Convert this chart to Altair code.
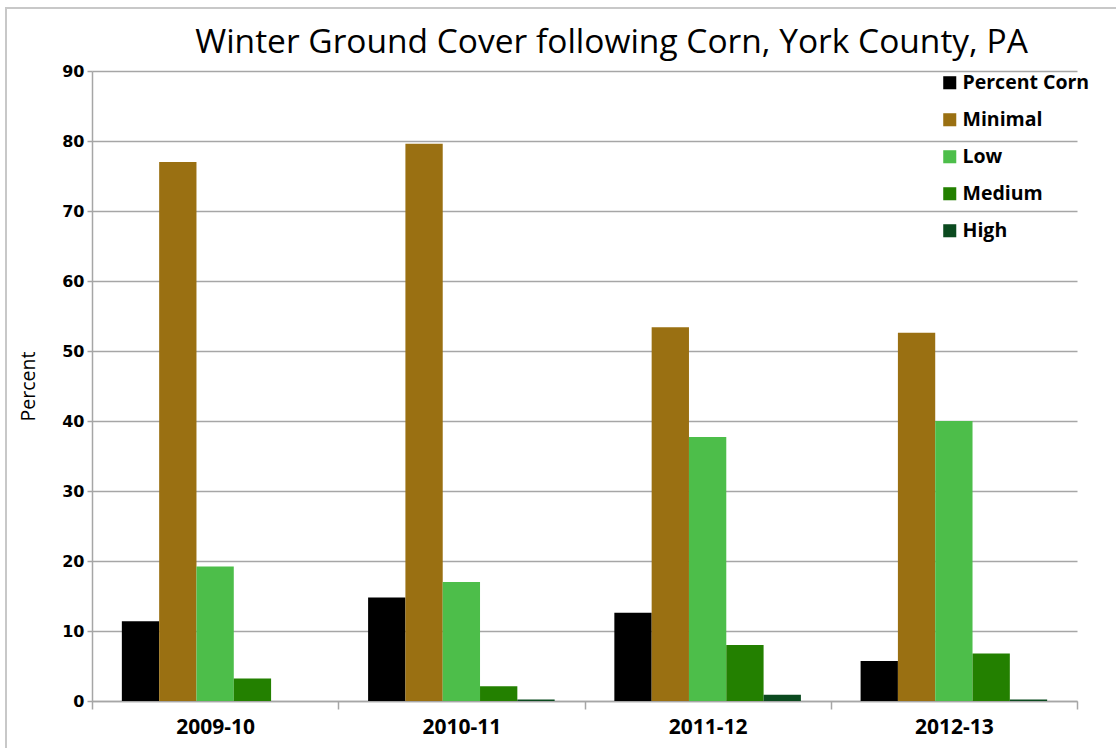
import altair as alt
import pandas as pd

# Winter ground cover on corn fields, York County PA
seasons = ["2009-10", "2010-11", "2011-12", "2012-13"]
series = ["Percent Corn", "Minimal", "Low", "Medium", "High"]
percent_corn = [11.4, 14.8, 12.6, 5.7]
minimal = [77.0, 79.6, 53.4, 52.6]
low = [19.2, 17.0, 37.7, 40.0]
medium = [3.2, 2.1, 8.0, 6.8]
high = [0.0, 0.2, 0.9, 0.2]
colors = ["#000000", "#9a7012", "#4dbe4a", "#238000", "#0b4a1f"]

rows = []
for name, vals in zip(series, [percent_corn, minimal, low, medium, high]):
    for s, v in zip(seasons, vals):
        rows.append({"Season": s, "Series": name, "Percent": v})
df = pd.DataFrame(rows)

LEFT, TOP = 92, 71
W, H = 985, 630
PAD = {"left": LEFT, "top": TOP, "right": 1116 - LEFT - W, "bottom": 748 - TOP - H}

bars = alt.Chart(df).mark_bar().encode(
    x=alt.X("Season:N", sort=seasons, title=None,
            scale=alt.Scale(paddingInner=0, paddingOuter=0),
            axis=alt.Axis(labelAngle=0, tickBand="extent", grid=False,
                          labelFont="Open Sans", labelFontWeight="bold",
                          labelFontSize=21, labelColor="#000000", labelPadding=7,
                          domainColor="#a6a6a6", tickColor="#a6a6a6",
                          tickSize=8, domainWidth=1.5, tickWidth=1.5)),
    xOffset=alt.XOffset("Series:N", sort=series,
                        scale=alt.Scale(paddingInner=0, paddingOuter=0.8)),
    y=alt.Y("Percent:Q", title="Percent",
            scale=alt.Scale(domain=[0, 90], nice=False),
            axis=alt.Axis(values=list(range(0, 91, 10)), grid=True,
                          gridColor="#a6a6a6", gridWidth=1.5,
                          domainColor="#a6a6a6", domainWidth=1.5,
                          tickColor="#a6a6a6", tickWidth=1.5, tickSize=5,
                          labelFont="DejaVu Sans", labelFontWeight="bold",
                          labelFontSize=16, labelColor="#000000", labelPadding=3,
                          titleFont="Open Sans", titleFontWeight="normal",
                          titleFontSize=19.5, titleColor="#000000", titlePadding=23)),
    color=alt.Color("Series:N", sort=series, title=None,
                    scale=alt.Scale(domain=series, range=colors),
                    legend=alt.Legend(orient="none", legendX=848, legendY=2,
                                      symbolType="square", symbolSize=170,
                                      symbolStrokeWidth=0, symbolOpacity=1,
                                      labelFont="Open Sans", labelFontWeight="bold",
                                      labelFontSize=19.5, labelColor="#000000",
                                      labelOffset=3, rowPadding=16)),
)

# thin frame around the whole figure
border = alt.Chart(pd.DataFrame({"a": [0]})).mark_rect(
    fill=None, stroke="#c8c8c8", strokeWidth=2
).encode(
    x=alt.value(6 - LEFT), x2=alt.value(1116 - LEFT + 20),
    y=alt.value(8 - TOP), y2=alt.value(748 - TOP + 20),
)

chart = alt.layer(border, bars).properties(
    width=W, height=H,
    title=alt.TitleParams("Winter Ground Cover following Corn, York County, PA",
                          font="Open Sans", fontSize=33.5, fontWeight="normal",
                          color="#000000", anchor="middle", dx=27, offset=-53),
).configure(
    autosize=alt.AutoSizeParams(type="none"),
    padding=PAD,
    background="#ffffff",
).configure_view(stroke=None)

chart.save("out.html", embed_options={"renderer": "svg", "actions": False})
